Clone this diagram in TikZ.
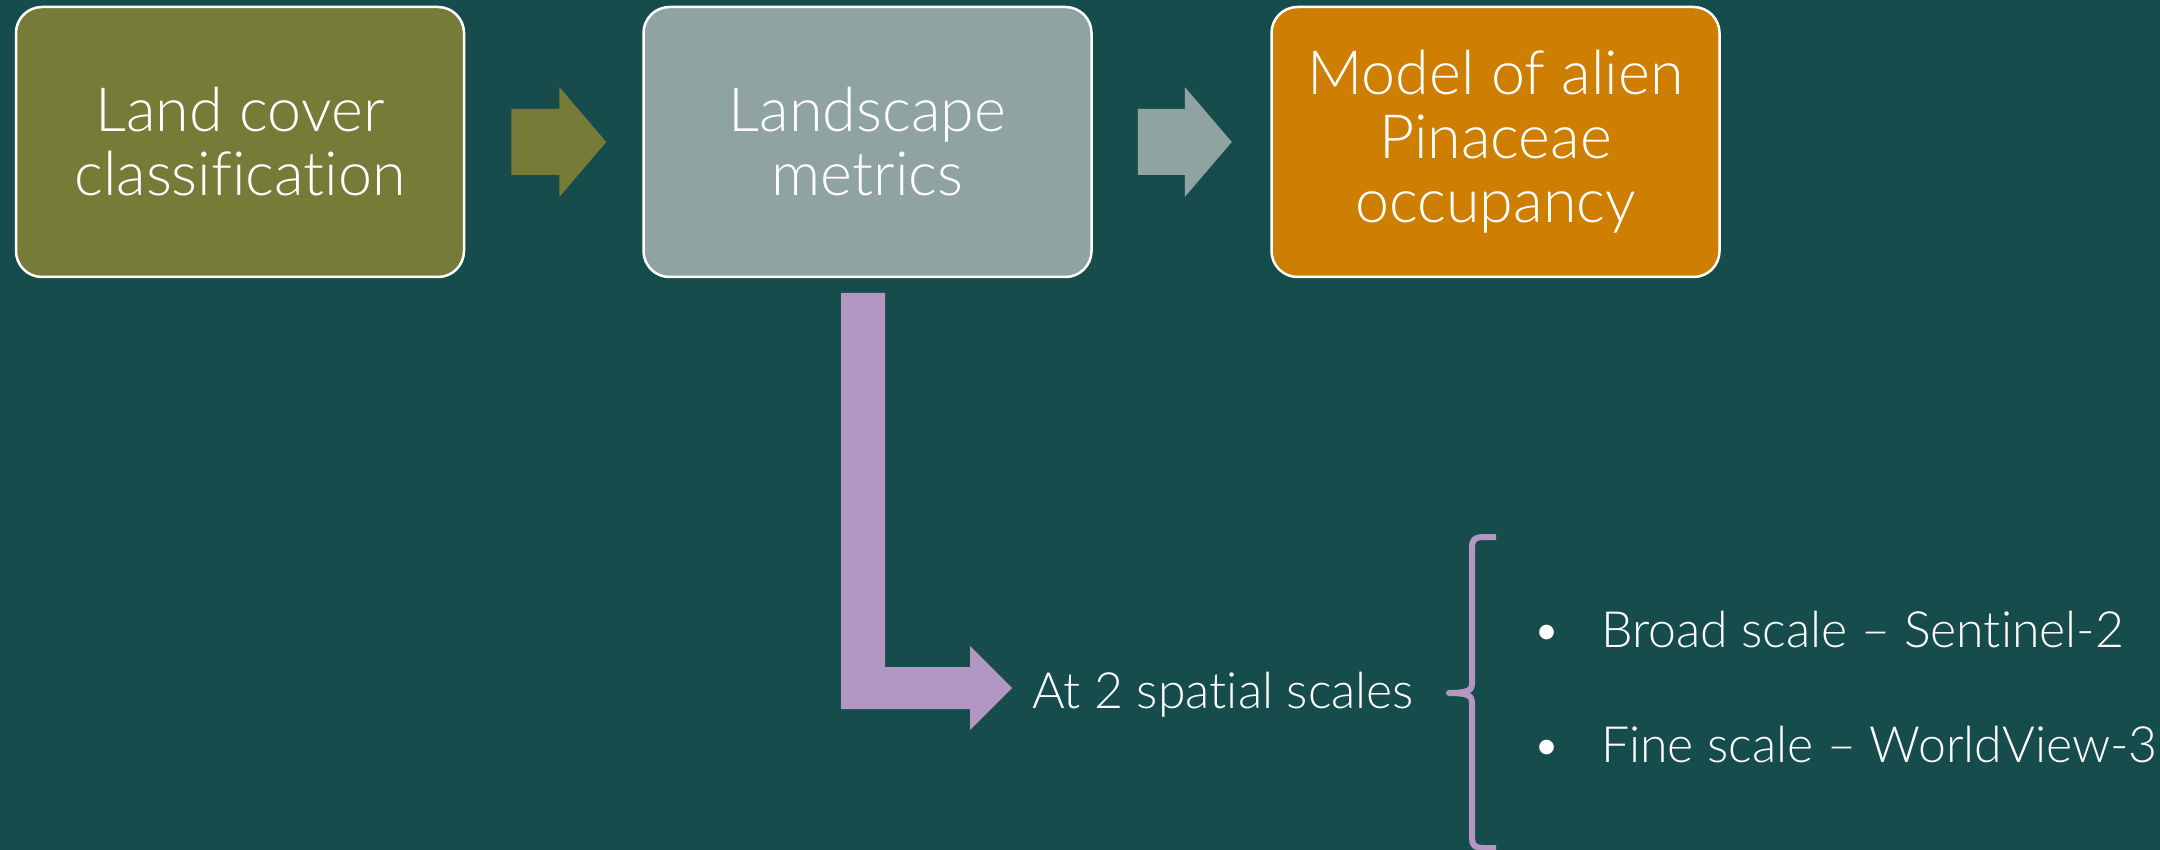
\documentclass[tikz,border=0pt]{standalone}
\usepackage{fontspec}
\setmainfont{Lato}[UprightFont=* Light, Ligatures=NoCommon]
\usetikzlibrary{calc}
\definecolor{bgteal}{RGB}{23,76,76}
\definecolor{olivebox}{RGB}{118,124,56}
\definecolor{greybox}{RGB}{143,163,161}
\definecolor{orangebox}{RGB}{206,126,0}
\definecolor{lilac}{RGB}{180,150,194}
\tikzset{
  procbox/.style={draw=white, line width=2.5pt, rounded corners=26pt, minimum width=448pt, minimum height=270pt,
    align=center, text=white, font=\fontsize{61}{64}\selectfont, inner sep=0pt},
  smalltext/.style={text=white, font=\fontsize{50}{56}\selectfont, inner sep=0pt},
}
\begin{document}
\begin{tikzpicture}[x=1pt,y=-1pt]
\fill[bgteal] (0,0) rectangle (2160,850);
\useasboundingbox (0,0) rectangle (2160,850);
\node[procbox, fill=olivebox] (b1) at (240,142) {Land cover\\classification};
\node[procbox, fill=greybox] (b2) at (867.5,142) {Landscape\\metrics};
\node[procbox, fill=orangebox] (b3) at (1495.5,142) {Model of alien\\Pinaceae\\occupancy};
% block arrows between boxes
\fill[olivebox] ($(b1.east)+(46,-33)$) -- ++(48,0) -- ++(0,-22) -- ($(b1.east)+(141,0)$)
  -- ($(b1.east)+(94,55)$) -- ++(0,-22) -- ++(-48,0) -- cycle;
\fill[greybox] ($(b2.east)+(45,-33)$) -- ++(47,0) -- ++(0,-22) -- ($(b2.east)+(139,0)$)
  -- ($(b2.east)+(92,55)$) -- ++(0,-22) -- ++(-47,0) -- cycle;
% L-shaped arrow
\node[smalltext, anchor=base west] (scales) at (1032,708) {At 2 spatial scales};
\coordinate (ltip) at (1012,688);
\fill[lilac] (841,293) -- (885,293) -- (885,667) -- (970,667) -- (970,646) -- (ltip)
  -- (970,730) -- (970,709) -- (841,709) -- cycle;
% brace
\draw[lilac, line width=6pt, line join=round]
  (1496,537) -- (1484,537) .. controls (1474,537) and (1472,540) .. (1472,548)
  -- (1472,684) .. controls (1472,690) and (1468,693) .. (1449,693)
  .. controls (1468,693) and (1472,696) .. (1472,702)
  -- (1472,838) .. controls (1472,845) and (1474,848) .. (1484,848) -- (1496,848);
% bullets
\node[smalltext, anchor=base] (d1) at (1547,647) {•};
\node[smalltext, anchor=base west] (l1) at (1601,647) {Broad scale – Sentinel-2};
\node[smalltext, anchor=base] (d2) at (1547,762) {•};
\node[smalltext, anchor=base west] (l2) at (1601,762) {Fine scale – WorldView-3};
\end{tikzpicture}
\end{document}
